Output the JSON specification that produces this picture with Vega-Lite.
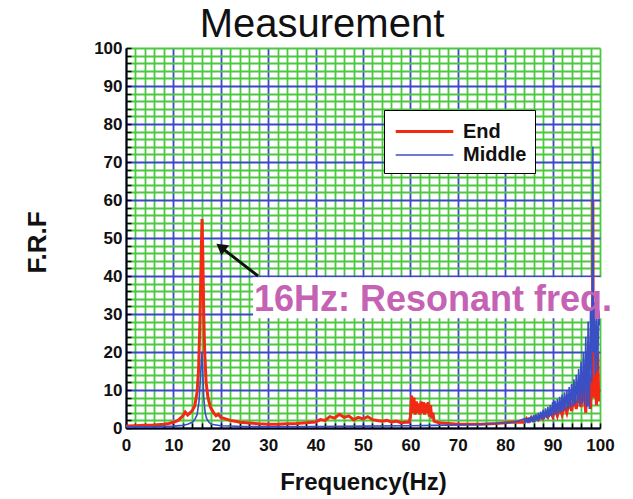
{
  "$schema": "https://vega.github.io/schema/vega-lite/v6.json",
  "width": 474,
  "height": 380,
  "autosize": "none",
  "padding": {"left": 126, "top": 48, "right": 33, "bottom": 71},
  "background": "white",
  "config": {
    "view": {"stroke": null},
    "font": "Liberation Sans"
  },
  "title": {
    "text": "Measurement",
    "fontSize": 40,
    "fontWeight": "normal",
    "font": "Liberation Sans",
    "color": "#111111",
    "anchor": "middle",
    "dx": -41,
    "offset": -6
  },
  "datasets": {
    "curves": [
      {"series": "End", "f": 0, "v": 0.5}, {"series": "End", "f": 2, "v": 0.6}, {"series": "End", "f": 4, "v": 0.7}, {"series": "End", "f": 6, "v": 0.8}, {"series": "End", "f": 8, "v": 1.0}, {"series": "End", "f": 9, "v": 1.2}, {"series": "End", "f": 10, "v": 1.5}, {"series": "End", "f": 11, "v": 2.0}, {"series": "End", "f": 11.5, "v": 2.6}, {"series": "End", "f": 12, "v": 3.2}, {"series": "End", "f": 12.5, "v": 4.2}, {"series": "End", "f": 13, "v": 3.4}, {"series": "End", "f": 13.5, "v": 4.0}, {"series": "End", "f": 14, "v": 4.6}, {"series": "End", "f": 14.5, "v": 5.8}, {"series": "End", "f": 15, "v": 9.5}, {"series": "End", "f": 15.3, "v": 15}, {"series": "End", "f": 15.6, "v": 28}, {"series": "End", "f": 15.9, "v": 48}, {"series": "End", "f": 16.05, "v": 55}, {"series": "End", "f": 16.2, "v": 46}, {"series": "End", "f": 16.4, "v": 30}, {"series": "End", "f": 16.6, "v": 20}, {"series": "End", "f": 16.9, "v": 12}, {"series": "End", "f": 17.3, "v": 8}, {"series": "End", "f": 17.8, "v": 5.5}, {"series": "End", "f": 18.5, "v": 4}, {"series": "End", "f": 19, "v": 3.2}, {"series": "End", "f": 19.5, "v": 3.6}, {"series": "End", "f": 20, "v": 2.8}, {"series": "End", "f": 21, "v": 2.4}, {"series": "End", "f": 22, "v": 2.0}, {"series": "End", "f": 23, "v": 1.8}, {"series": "End", "f": 24, "v": 1.5}, {"series": "End", "f": 26, "v": 1.3}, {"series": "End", "f": 28, "v": 1.1}, {"series": "End", "f": 30, "v": 1.0}, {"series": "End", "f": 32, "v": 1.0}, {"series": "End", "f": 34, "v": 1.1}, {"series": "End", "f": 36, "v": 1.2}, {"series": "End", "f": 38, "v": 1.4}, {"series": "End", "f": 40, "v": 1.6}, {"series": "End", "f": 41, "v": 2.2}, {"series": "End", "f": 42, "v": 2.0}, {"series": "End", "f": 43, "v": 3.0}, {"series": "End", "f": 44, "v": 2.6}, {"series": "End", "f": 45, "v": 3.6}, {"series": "End", "f": 46, "v": 2.8}, {"series": "End", "f": 47, "v": 3.2}, {"series": "End", "f": 48, "v": 2.2}, {"series": "End", "f": 49, "v": 2.8}, {"series": "End", "f": 50, "v": 2.4}, {"series": "End", "f": 51, "v": 3.0}, {"series": "End", "f": 52, "v": 2.2}, {"series": "End", "f": 53, "v": 2.0}, {"series": "End", "f": 54, "v": 1.8}, {"series": "End", "f": 55, "v": 2.0}, {"series": "End", "f": 56, "v": 1.6}, {"series": "End", "f": 57, "v": 1.8}, {"series": "End", "f": 58, "v": 1.4}, {"series": "End", "f": 59, "v": 1.5}, {"series": "End", "f": 59.75, "v": 1.5}, {"series": "End", "f": 60, "v": 3}, {"series": "End", "f": 60.25, "v": 8.5}, {"series": "End", "f": 60.5, "v": 4}, {"series": "End", "f": 60.75, "v": 8}, {"series": "End", "f": 61, "v": 3.5}, {"series": "End", "f": 61.25, "v": 7}, {"series": "End", "f": 61.5, "v": 4}, {"series": "End", "f": 61.75, "v": 6.5}, {"series": "End", "f": 62, "v": 3.5}, {"series": "End", "f": 62.25, "v": 7}, {"series": "End", "f": 62.5, "v": 4}, {"series": "End", "f": 62.75, "v": 6.8}, {"series": "End", "f": 63, "v": 3.5}, {"series": "End", "f": 63.25, "v": 6.5}, {"series": "End", "f": 63.5, "v": 4}, {"series": "End", "f": 63.75, "v": 6.8}, {"series": "End", "f": 64, "v": 3}, {"series": "End", "f": 64.25, "v": 6}, {"series": "End", "f": 64.5, "v": 2.5}, {"series": "End", "f": 64.75, "v": 4}, {"series": "End", "f": 65, "v": 1.8}, {"series": "End", "f": 66, "v": 1.4}, {"series": "End", "f": 68, "v": 1.2}, {"series": "End", "f": 70, "v": 1.0}, {"series": "End", "f": 72, "v": 1.0}, {"series": "End", "f": 75, "v": 1.0}, {"series": "End", "f": 78, "v": 1.2}, {"series": "End", "f": 80, "v": 1.4}, {"series": "End", "f": 82, "v": 1.6}, {"series": "End", "f": 84, "v": 1.5}, {"series": "End", "f": 84.5, "v": 2.5}, {"series": "End", "f": 85, "v": 1.8}, {"series": "End", "f": 85.5, "v": 2.8}, {"series": "End", "f": 86, "v": 2}, {"series": "End", "f": 86.5, "v": 3}, {"series": "End", "f": 87, "v": 2.2}, {"series": "End", "f": 87.5, "v": 3.3}, {"series": "End", "f": 88, "v": 2.5}, {"series": "End", "f": 88.5, "v": 3.8}, {"series": "End", "f": 89, "v": 2.8}, {"series": "End", "f": 89.5, "v": 4.2}, {"series": "End", "f": 90, "v": 3}, {"series": "End", "f": 90.5, "v": 5}, {"series": "End", "f": 91, "v": 3.2}, {"series": "End", "f": 91.5, "v": 5.5}, {"series": "End", "f": 92, "v": 3.5}, {"series": "End", "f": 92.5, "v": 6}, {"series": "End", "f": 93, "v": 4}, {"series": "End", "f": 93.5, "v": 7}, {"series": "End", "f": 94, "v": 4.5}, {"series": "End", "f": 94.5, "v": 8}, {"series": "End", "f": 95, "v": 5}, {"series": "End", "f": 95.5, "v": 9}, {"series": "End", "f": 96, "v": 5.5}, {"series": "End", "f": 96.5, "v": 11}, {"series": "End", "f": 97, "v": 4}, {"series": "End", "f": 97.25, "v": 13}, {"series": "End", "f": 97.5, "v": 6}, {"series": "End", "f": 97.75, "v": 12}, {"series": "End", "f": 98, "v": 5}, {"series": "End", "f": 98.25, "v": 14}, {"series": "End", "f": 98.4, "v": 8}, {"series": "End", "f": 98.5, "v": 60}, {"series": "End", "f": 98.6, "v": 8}, {"series": "End", "f": 99, "v": 14}, {"series": "End", "f": 99.25, "v": 6}, {"series": "End", "f": 99.5, "v": 20}, {"series": "End", "f": 99.75, "v": 7}, {"series": "End", "f": 100, "v": 9},
      {"series": "Middle", "f": 0, "v": 0.3}, {"series": "Middle", "f": 5, "v": 0.3}, {"series": "Middle", "f": 10, "v": 0.5}, {"series": "Middle", "f": 12, "v": 0.7}, {"series": "Middle", "f": 13, "v": 1.0}, {"series": "Middle", "f": 14, "v": 1.5}, {"series": "Middle", "f": 14.5, "v": 2.2}, {"series": "Middle", "f": 15, "v": 3.5}, {"series": "Middle", "f": 15.4, "v": 7}, {"series": "Middle", "f": 15.7, "v": 13}, {"series": "Middle", "f": 16.0, "v": 20}, {"series": "Middle", "f": 16.2, "v": 15}, {"series": "Middle", "f": 16.4, "v": 8}, {"series": "Middle", "f": 16.7, "v": 4}, {"series": "Middle", "f": 17, "v": 2.5}, {"series": "Middle", "f": 17.5, "v": 1.5}, {"series": "Middle", "f": 18, "v": 1.0}, {"series": "Middle", "f": 20, "v": 0.6}, {"series": "Middle", "f": 25, "v": 0.4}, {"series": "Middle", "f": 30, "v": 0.3}, {"series": "Middle", "f": 40, "v": 0.4}, {"series": "Middle", "f": 50, "v": 0.5}, {"series": "Middle", "f": 60, "v": 0.6}, {"series": "Middle", "f": 65, "v": 0.7}, {"series": "Middle", "f": 70, "v": 0.8}, {"series": "Middle", "f": 75, "v": 1.0}, {"series": "Middle", "f": 80, "v": 1.3}, {"series": "Middle", "f": 82, "v": 1.6}, {"series": "Middle", "f": 83, "v": 2.0},
      {"series": "Middle", "f": 84.0, "v": 2.4}, {"series": "Middle", "f": 84.25, "v": 1.2}, {"series": "Middle", "f": 84.5, "v": 2.6}, {"series": "Middle", "f": 84.75, "v": 1.3}, {"series": "Middle", "f": 85.0, "v": 2.8}, {"series": "Middle", "f": 85.25, "v": 1.4}, {"series": "Middle", "f": 85.5, "v": 3.0}, {"series": "Middle", "f": 85.75, "v": 1.5}, {"series": "Middle", "f": 86.0, "v": 3.4}, {"series": "Middle", "f": 86.25, "v": 1.6}, {"series": "Middle", "f": 86.5, "v": 3.6}, {"series": "Middle", "f": 86.75, "v": 1.8}, {"series": "Middle", "f": 87.0, "v": 4.0}, {"series": "Middle", "f": 87.25, "v": 2.0}, {"series": "Middle", "f": 87.5, "v": 4.3}, {"series": "Middle", "f": 87.75, "v": 2.2}, {"series": "Middle", "f": 88.0, "v": 4.8}, {"series": "Middle", "f": 88.25, "v": 2.4}, {"series": "Middle", "f": 88.5, "v": 5.2}, {"series": "Middle", "f": 88.75, "v": 2.6}, {"series": "Middle", "f": 89.0, "v": 5.6}, {"series": "Middle", "f": 89.25, "v": 2.9}, {"series": "Middle", "f": 89.5, "v": 6.0}, {"series": "Middle", "f": 89.75, "v": 3.1}, {"series": "Middle", "f": 90.0, "v": 6.8}, {"series": "Middle", "f": 90.25, "v": 3.4}, {"series": "Middle", "f": 90.5, "v": 7.2}, {"series": "Middle", "f": 90.75, "v": 3.6}, {"series": "Middle", "f": 91.0, "v": 7.6}, {"series": "Middle", "f": 91.25, "v": 3.9}, {"series": "Middle", "f": 91.5, "v": 8.2}, {"series": "Middle", "f": 91.75, "v": 4.1}, {"series": "Middle", "f": 92.0, "v": 8.8}, {"series": "Middle", "f": 92.25, "v": 4.4}, {"series": "Middle", "f": 92.5, "v": 9.4}, {"series": "Middle", "f": 92.75, "v": 4.8}, {"series": "Middle", "f": 93.0, "v": 10.0}, {"series": "Middle", "f": 93.25, "v": 5.0}, {"series": "Middle", "f": 93.5, "v": 10.8}, {"series": "Middle", "f": 93.75, "v": 5.4}, {"series": "Middle", "f": 94.0, "v": 11.6}, {"series": "Middle", "f": 94.25, "v": 5.8}, {"series": "Middle", "f": 94.5, "v": 12.8}, {"series": "Middle", "f": 94.75, "v": 6.2}, {"series": "Middle", "f": 95.0, "v": 14.0}, {"series": "Middle", "f": 95.25, "v": 6.6}, {"series": "Middle", "f": 95.5, "v": 15.5}, {"series": "Middle", "f": 95.75, "v": 6.0}, {"series": "Middle", "f": 96.0, "v": 17.5}, {"series": "Middle", "f": 96.25, "v": 6.5}, {"series": "Middle", "f": 96.5, "v": 20.0}, {"series": "Middle", "f": 96.75, "v": 6.0}, {"series": "Middle", "f": 97.0, "v": 24.0}, {"series": "Middle", "f": 97.25, "v": 5.5}, {"series": "Middle", "f": 97.5, "v": 28.0}, {"series": "Middle", "f": 97.75, "v": 5.0}, {"series": "Middle", "f": 98.0, "v": 31.0}, {"series": "Middle", "f": 98.25, "v": 12.0}, {"series": "Middle", "f": 98.5, "v": 74.0}, {"series": "Middle", "f": 98.6, "v": 20.0}, {"series": "Middle", "f": 98.75, "v": 33.0}, {"series": "Middle", "f": 99.0, "v": 14.0}, {"series": "Middle", "f": 99.25, "v": 33.0}, {"series": "Middle", "f": 99.5, "v": 15.0}, {"series": "Middle", "f": 99.75, "v": 31.0}, {"series": "Middle", "f": 100.0, "v": 27.0}
    ],
    "box": [{"x1": 26.8, "x2": 102.5, "y1": 28.9, "y2": 39.7}],
    "label": [{"x": 27.0, "y": 30.8, "text": "16Hz: Resonant freq."}],
    "arrow": [{"f": 27.85, "v": 40.0}, {"f": 20.3, "v": 47.3}],
    "head": [{"f": 20.0, "v": 47.6}]
  },
  "layer": [
    {
      "data": {"name": "box"},
      "mark": {"type": "rect", "color": "white", "clip": false},
      "encoding": {
        "x": {"field": "x1", "type": "quantitative", "scale": {"domain": [0, 100], "nice": false, "zero": false},
          "axis": {
            "values": [0,2,4,6,8,10,12,14,16,18,20,22,24,26,28,30,32,34,36,38,40,42,44,46,48,50,52,54,56,58,60,62,64,66,68,70,72,74,76,78,80,82,84,86,88,90,92,94,96,98,100],
            "tickCount": 100,
            "labelExpr": "datum.value % 10 === 0 ? datum.label : ''",
            "title": "Frequency(Hz)",
            "titleFont": "Liberation Sans", "titleFontSize": 24, "titleFontWeight": "bold", "titleColor": "#111111",
            "titleX": 237, "titleY": 54, "titleBaseline": "middle", "titleAlign": "center",
            "labelFont": "Liberation Sans", "labelFontSize": 17, "labelFontWeight": "bold", "labelColor": "#111111",
            "labelPadding": 14, "labelFlush": false, "labelOverlap": false,
            "domainColor": "#000000", "domainWidth": 2,
            "tickColor": "#000000", "tickWidth": 1.5, "tickSize": -5,
            "grid": true,
            "gridColor": {"condition": {"test": "datum.value % 10 === 0 && datum.value < 100", "value": "#3a48c8"}, "value": "#4cc840"},
            "gridOpacity": 1, "gridWidth": 1.8
          }},
        "x2": {"field": "x2"},
        "y": {"field": "y1", "type": "quantitative", "scale": {"domain": [0, 100], "nice": false, "zero": false},
          "axis": {
            "values": [0,2,4,6,8,10,12,14,16,18,20,22,24,26,28,30,32,34,36,38,40,42,44,46,48,50,52,54,56,58,60,62,64,66,68,70,72,74,76,78,80,82,84,86,88,90,92,94,96,98,100],
            "tickCount": 100,
            "labelExpr": "datum.value % 10 === 0 ? datum.label : ''",
            "title": "F.R.F",
            "titleFont": "Liberation Sans", "titleFontSize": 26, "titleFontWeight": "bold", "titleColor": "#111111",
            "titleX": -89, "titleY": 194, "titleAngle": -90, "titleBaseline": "middle", "titleAlign": "center",
            "labelFont": "Liberation Sans", "labelFontSize": 17, "labelFontWeight": "bold", "labelColor": "#111111",
            "labelPadding": 9, "labelFlush": false, "labelOverlap": false,
            "domainColor": "#000000", "domainWidth": 2,
            "tickColor": "#000000", "tickWidth": 1.5, "tickSize": -5,
            "grid": true,
            "gridColor": {"condition": {"test": "datum.value % 10 === 0 && datum.value < 100", "value": "#3a48c8"}, "value": "#4cc840"},
            "gridOpacity": 1, "gridWidth": 1.8
          }},
        "y2": {"field": "y2"}
      }
    },
    {
      "data": {"name": "curves"},
      "mark": {"type": "line", "clip": true},
      "encoding": {
        "x": {"field": "f", "type": "quantitative"},
        "y": {"field": "v", "type": "quantitative"},
        "color": {"field": "series", "type": "nominal",
          "scale": {"domain": ["End", "Middle"], "range": ["#f22a14", "#3b4fc4"]},
          "legend": {
            "title": null, "orient": "none", "legendX": 258, "legendY": 62,
            "direction": "vertical",
            "fillColor": "white", "strokeColor": "#000000",
            "padding": 8,
            "symbolType": "M-2.4,0L2.4,0", "symbolSize": 576, "symbolStrokeWidth": 3, "symbolOffset": 19,
            "labelFont": "Liberation Sans", "labelFontSize": 20, "labelFontWeight": "bold", "labelColor": "#111111",
            "labelOffset": 25, "rowPadding": 0
          }},
        "strokeWidth": {"field": "series", "type": "ordinal", "scale": {"domain": ["End", "Middle"], "range": [3, 1.6]}, "legend": null}
      }
    },
    {
      "data": {"name": "label"},
      "mark": {"type": "text", "align": "left", "baseline": "alphabetic", "font": "Liberation Sans", "fontSize": 36, "fontWeight": "bold", "color": "#c562b3", "clip": false},
      "encoding": {
        "x": {"field": "x", "type": "quantitative"},
        "y": {"field": "y", "type": "quantitative"},
        "text": {"field": "text"}
      }
    },
    {
      "data": {"name": "arrow"},
      "mark": {"type": "line", "color": "#111111", "strokeWidth": 3},
      "encoding": {
        "x": {"field": "f", "type": "quantitative"},
        "y": {"field": "v", "type": "quantitative"}
      }
    },
    {
      "data": {"name": "head"},
      "mark": {"type": "point", "shape": "triangle-up", "filled": true, "color": "#111111", "size": 160, "angle": 307, "opacity": 1},
      "encoding": {
        "x": {"field": "f", "type": "quantitative"},
        "y": {"field": "v", "type": "quantitative"}
      }
    }
  ]
}
